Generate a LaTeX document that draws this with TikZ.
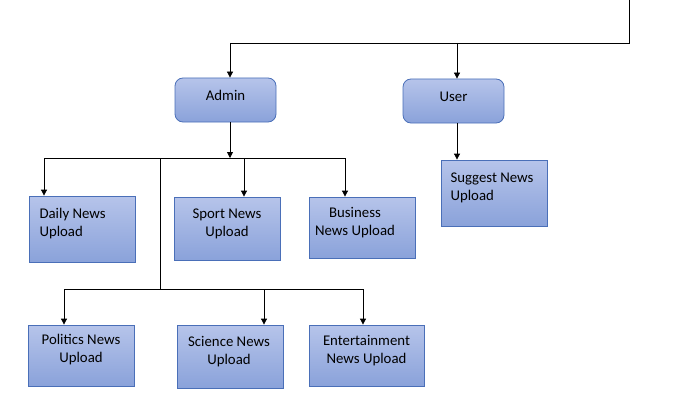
\documentclass[tikz,border=0pt]{standalone}
\usepackage{fontspec}
\setmainfont{Carlito}
\usetikzlibrary{arrows.meta,calc}
\definecolor{boxtop}{HTML}{B6C4EA}
\definecolor{boxbot}{HTML}{8AA2DA}
\definecolor{boxline}{HTML}{4A6FB8}
\tikzset{
  box/.style={draw=boxline, line width=0.8pt, top color=boxtop, bottom color=boxbot, inner sep=0pt},
  rbox/.style={box, rounded corners=8pt, minimum width=101pt, minimum height=44pt},
  txt/.style={font=\fontsize{14.8}{18}\selectfont, text=black},
  conn/.style={draw=black, line width=0.8pt},
  arr/.style={conn, -{Triangle[width=6pt,length=6pt]}}
}
\begin{document}
\begin{tikzpicture}[x=1pt,y=-1pt]
\useasboundingbox (0,0) rectangle (676,409);
% top level boxes
\node[rbox, txt] (admin) at (225.5,100) {\raisebox{9.5pt}{Admin}};
\node[rbox, txt] (user) at (453.5,101) {\raisebox{8.5pt}{User}};
% leaf boxes
\node[box, minimum width=106pt, minimum height=66pt] (daily) at (82,229) {};
\node[txt, align=left, anchor=north west] (dailyt) at (36,205) {Daily News\\Upload};
\node[box, minimum width=106pt, minimum height=63pt] (sport) at (227,228.5) {};
\node[txt, align=center] (sportt) at (227,224) {Sport News\\Upload};
\node[box, minimum width=106pt, minimum height=61pt] (business) at (362,227.5) {};
\node[txt, align=center] (businesst) at (355,223) {Business\\News Upload};
\node[box, minimum width=106pt, minimum height=66pt] (suggest) at (494,193) {};
\node[txt, align=left, anchor=north west] (suggestt) at (447,169) {Suggest News\\Upload};
\node[box, minimum width=106pt, minimum height=61pt] (politics) at (81,355.5) {};
\node[txt, align=center] (politicst) at (81,350) {Politics News\\Upload};
\node[box, minimum width=106pt, minimum height=63pt] (science) at (230,356.5) {};
\node[txt, align=center] (sciencet) at (229,352) {Science News\\Upload};
\node[box, minimum width=115pt, minimum height=61pt] (ent) at (366.5,355.5) {};
\node[txt, align=center] (entt) at (366.5,351) {Entertainment\\News Upload};
% junction coordinates
\coordinate (top) at (629,0);
\coordinate (tr) at (629,43);
\coordinate (tl) at (230,43);
\coordinate (tu) at (457,43);
\coordinate (aj) at (230,158);
\coordinate (h1l) at (44,158);
\coordinate (h1s) at (244,158);
\coordinate (h1r) at (345,158);
\coordinate (h1m) at (160,158);
\coordinate (h2m) at (160,289);
\coordinate (h2l) at (64,289);
\coordinate (h2s) at (264,289);
\coordinate (h2r) at (363,289);
% connectors
\draw[conn] (top) -- (tr) -- (tl);
\draw[arr] (tl) -- (tl |- admin.north);
\draw[arr] (tu) -- (tu |- user.north);
\draw[arr] (aj |- admin.south) -- (aj);
\draw[conn] (h1l) -- (h1r);
\draw[arr] (h1l) -- (h1l |- daily.north);
\draw[arr] (h1s) -- (h1s |- sport.north);
\draw[arr] (h1r) -- (h1r |- business.north);
\draw[conn] (h1m) -- (h2m);
\draw[conn] (h2l) -- (h2r);
\draw[arr] (h2l) -- (h2l |- politics.north);
\draw[arr] (h2s) -- (h2s |- science.north);
\draw[arr] (h2r) -- (h2r |- ent.north);
\draw[arr] (457,0 |- user.south) -- (457,0 |- suggest.north);
\end{tikzpicture}
\end{document}
